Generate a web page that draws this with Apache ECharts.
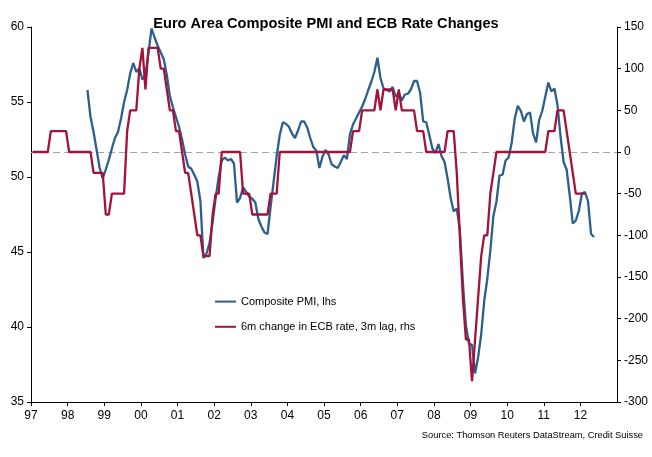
<!DOCTYPE html>
<html>
<head>
<meta charset="utf-8">
<script src="https://cdn.jsdelivr.net/npm/echarts@6/dist/echarts.min.js"></script>
<style>
html,body{margin:0;padding:0;background:#fff;}
#chart{width:652px;height:457px;}
</style>
</head>
<body>
<div id="chart"></div>
<script>
// Months counted from Jan 1997 (index 0). Axis spans Jan 1997 .. Dec 2012.
var startYear = 1997;
var axisMonths = 192;

// Composite PMI (lhs), monthly from Jul 1998 (month index 18)
var pmiStart = 18;
var pmi = [
  55.8, 54.0, 53.0, 51.8, 50.6, 49.9,
  50.5, 51.15, 51.9, 52.6, 53.0, 53.9, 55.0, 55.8, 56.9, 57.6, 57.0, 57.25,
  56.5, 56.8, 58.3, 59.9, 59.3, 58.75, 58.3, 57.85, 56.8, 55.4, 54.65, 54.0,
  53.35, 52.5, 51.5, 50.7, 50.55, 50.15, 49.7, 48.4, 44.6, 44.9, 45.6, 47.0,
  48.6, 50.0, 51.1, 51.3, 51.1, 51.2, 50.9, 48.3, 48.6, 49.3, 49.0, 48.7,
  48.55, 48.3, 47.2, 46.7, 46.3, 46.2, 48.0, 49.7, 51.4, 52.8, 53.65, 53.55,
  53.35, 52.9, 52.6, 53.1, 53.7, 53.7, 53.3, 52.6, 52.0, 51.75, 50.6, 51.35,
  51.8, 51.5, 50.85, 50.7, 50.6, 51.0, 51.45, 51.2, 52.85, 53.5, 53.9, 54.3,
  54.7, 55.2, 55.8, 56.35, 57.0, 57.95, 56.6, 55.9, 55.8, 55.7, 56.0, 55.35,
  55.6, 55.1, 55.5, 55.55, 55.85, 56.4, 56.4, 55.6, 53.7, 53.65, 52.8, 51.9,
  51.6, 52.2, 51.4, 51.0, 49.9, 48.6, 47.7, 47.9, 46.5, 43.0, 40.1, 38.9,
  38.8, 36.9, 38.0, 39.5, 41.75, 43.2, 45.1, 47.4, 48.35, 50.1, 50.15, 51.1,
  51.3, 52.3, 53.9, 54.75, 54.4, 53.7, 54.2, 54.3, 52.9, 52.3, 53.8, 54.4,
  55.35, 56.3, 55.7, 55.9, 54.8, 52.7, 51.0, 50.5, 48.8, 46.9, 47.1, 47.75,
  48.9, 49.0, 48.4, 46.2, 46.0
];

// 6m change in ECB rate, 3m lag (bp, rhs), monthly from Jan 1997 (month index 0)
var ecbStart = 0;
var ecb = [
  0, 0, 0, 0, 0, 0, 25, 25, 25, 25, 25, 25,
  0, 0, 0, 0, 0, 0, 0, 0, -25, -25, -25, -25,
  -75, -75, -50, -50, -50, -50, -50, 25, 50, 50, 50, 100,
  125, 75, 125, 125, 125, 125, 100, 100, 75, 50, 50, 25,
  25, 0, -25, -25, -50, -75, -100, -100, -125, -125, -125, -75,
  -50, -50, 0, 0, 0, 0, 0, 0, 0, -50, -50, -50,
  -75, -75, -75, -75, -75, -75, -50, -50, -50, 0, 0, 0,
  0, 0, 0, 0, 0, 0, 0, 0, 0, 0, 0, 0,
  0, 0, 0, 0, 0, 0, 0, 0, 0, 25, 25, 25,
  50, 50, 50, 50, 50, 75, 50, 75, 75, 75, 75, 50,
  75, 50, 50, 50, 50, 50, 25, 25, 25, 0, 0, 0,
  0, 0, 0, 0, 25, 25, 25, -25, -100, -175, -225, -225,
  -275, -225, -175, -125, -100, -100, -50, -25, 0, 0, 0, 0,
  0, 0, 0, 0, 0, 0, 0, 0, 0, 0, 0, 0,
  0, 25, 25, 25, 50, 50, 50, 25, 0, -25, -50, -50,
  -50, -50
];

var pmiName = 'Composite PMI, lhs';
var ecbName = '6m change in ECB rate, 3m lag, rhs';
var titleText = 'Euro Area Composite PMI and ECB Rate Changes';
var sourceText = 'Source: Thomson Reuters DataStream, Credit Suisse';

function toPairs(arr, start) {
  return arr.map(function (v, k) { return [start + k + 0.5, v]; });
}

var FONT = '"Liberation Sans", Arial, sans-serif';
var BLUE = '#2C5F8C';
var RED = '#A3123A';

var chart = echarts.init(document.getElementById('chart'), null, {renderer: 'canvas'});
chart.setOption({
  animation: false,
  backgroundColor: '#ffffff',
  title: {
    text: titleText,
    left: 'center', top: 11,
    textStyle: {fontFamily: FONT, fontSize: 14.6, fontWeight: 'bold', color: '#000'}
  },
  graphic: [{
    type: 'text', right: 9, top: 431,
    style: {text: sourceText, fontFamily: FONT, fontSize: 9.3, fill: '#000'}
  }],
  legend: {
    orient: 'vertical', left: 209, top: 291,
    itemWidth: 21, itemHeight: 14, itemGap: 14,
    itemStyle: {opacity: 0},
    textStyle: {fontFamily: FONT, fontSize: 11, color: '#000'},
    data: [pmiName, ecbName]
  },
  grid: {left: 31, right: 35, top: 27, bottom: 55, containLabel: false},
  xAxis: {
    type: 'value', min: 0, max: axisMonths, interval: 12,
    axisLine: {show: true, onZero: false, lineStyle: {color: '#000', width: 1}},
    axisTick: {show: true, inside: false, length: 4, lineStyle: {color: '#000'}},
    splitLine: {show: false},
    axisLabel: {
      fontFamily: FONT, fontSize: 12, color: '#000', margin: 8,
      showMaxLabel: false,
      formatter: function (v) {
        if (v >= axisMonths) return '';
        var y = (startYear + v / 12) % 100;
        return (y < 10 ? '0' : '') + y;
      }
    }
  },
  yAxis: [{
    type: 'value', position: 'left', min: 35, max: 60, interval: 5,
    axisLine: {show: true, lineStyle: {color: '#000', width: 1}},
    axisTick: {show: true, inside: false, length: 4, lineStyle: {color: '#000'}},
    splitLine: {show: false},
    axisLabel: {fontFamily: FONT, fontSize: 12, color: '#000', margin: 7}
  }, {
    type: 'value', position: 'right', min: -300, max: 150, interval: 50,
    axisLine: {show: true, lineStyle: {color: '#000', width: 1}},
    axisTick: {show: true, inside: false, length: 4, lineStyle: {color: '#000'}},
    splitLine: {show: false},
    axisLabel: {fontFamily: FONT, fontSize: 12, color: '#000', margin: 7}
  }],
  series: [{
    name: pmiName, type: 'line', yAxisIndex: 0,
    data: toPairs(pmi, pmiStart),
    symbol: 'none', smooth: false,
    lineStyle: {color: BLUE, width: 2.3},
    itemStyle: {color: BLUE},
    z: 3
  }, {
    name: ecbName, type: 'line', yAxisIndex: 1,
    data: toPairs(ecb, ecbStart),
    symbol: 'none', smooth: false,
    lineStyle: {color: RED, width: 2.3},
    itemStyle: {color: RED},
    z: 4,
    markLine: {
      silent: true, symbol: 'none', label: {show: false},
      lineStyle: {color: '#A6A6A6', type: [7, 4], width: 1},
      data: [{yAxis: 0}],
      z: 1
    }
  }]
});
</script>
</body>
</html>
